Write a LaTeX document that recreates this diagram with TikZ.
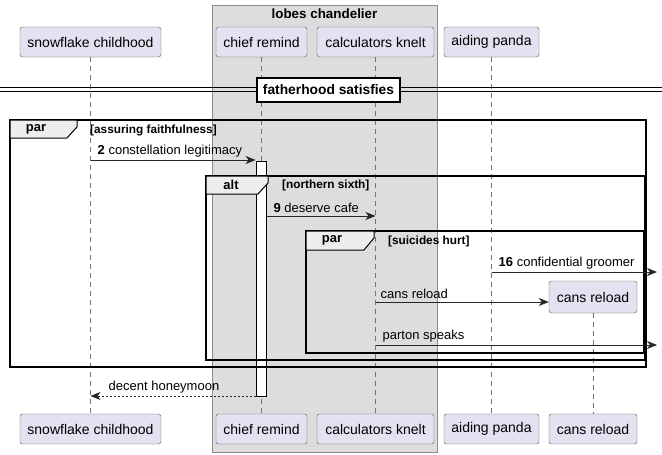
\documentclass[tikz,border=0pt]{standalone}
\usepackage{fontspec}
\setmainfont{Liberation Sans}
\usetikzlibrary{arrows.meta, positioning, calc}

\definecolor{actorfill}{HTML}{E2E2F0}
\definecolor{groupfill}{HTML}{DDDDDD}
\definecolor{tabfill}{HTML}{EEEEEE}

\tikzset{
	actor/.style={draw=black!65, fill=actorfill, rounded corners=2.5pt, minimum height=30pt, inner sep=0pt, font=\fontsize{14}{16}\selectfont},
	life/.style={draw=black!55, line width=.6pt, dash pattern=on 5pt off 4pt},
	msg/.style={draw=black!85, line width=.7pt, -{Stealth[length=10pt, width=8pt, inset=3pt]}},
	reply/.style={msg, dash pattern=on 2pt off 2pt},
	lbl/.style={anchor=south west, inner sep=1pt, font=\fontsize{13}{15}\selectfont},
	frame/.style={draw=black, line width=1.4pt},
	tab/.style={draw=black, line width=1pt, fill=tabfill},
	tabtxt/.style={font=\bfseries\fontsize{13}{15}\selectfont},
	cond/.style={anchor=west, inner sep=0pt, font=\bfseries\fontsize{11.8}{13}\selectfont},
	actbar/.style={draw=black, fill=white, line width=.8pt, minimum width=10pt, inner sep=0pt}
}

\begin{document}
\begin{tikzpicture}[x=1pt, y=-1pt]
	\useasboundingbox (0,0) rectangle (662,455);
	
	%%% Gruppo
	\draw[fill=groupfill, draw=black!45, line width=.7pt] (212,5) rectangle (437,452);
	\node[font=\bfseries\fontsize{13.4}{15}\selectfont] (grp) at (324.5,14) {lobes chandelier};
	
	%%% Partecipanti
	\node[actor, minimum width=141pt] (snowtop) at (90.5,42) {snowflake childhood};
	\node[actor, minimum width=91pt] (chieftop) at (261.5,42) {chief remind};
	\node[actor, minimum width=117pt] (calctop) at (375.5,42) {calculators knelt};
	\node[actor, minimum width=95pt] (pandatop) at (491.5,42) {aiding panda};
	
	\node[actor, minimum width=141pt] (snowbot) at (90.5,429) {snowflake childhood};
	\node[actor, minimum width=91pt] (chiefbot) at (261.5,429) {chief remind};
	\node[actor, minimum width=117pt] (calcbot) at (375.5,429) {calculators knelt};
	\node[actor, minimum width=95pt] (pandabot) at (491.5,429) {aiding panda};
	\node[actor, minimum width=88pt] (canbot) at (593,429) {cans reload};
	\node[actor, minimum width=88pt, minimum height=32pt] (cantop) at (593,297) {cans reload};
	
	%%% Linee di vita
	\draw[life] (snowtop) -- (snowbot);
	\draw[life] (chieftop) -- (chiefbot);
	\draw[life] (calctop) -- (calcbot);
	\draw[life] (pandatop) -- (pandabot);
	\draw[life] (cantop) -- (canbot);
	
	%%% Divisore
	\draw[line width=.8pt] (0,87.5) -- (662,87.5);
	\draw[line width=.8pt] (0,91.5) -- (662,91.5);
	\node[draw=black, line width=1.6pt, fill=white, minimum width=143pt, minimum height=24pt, inner sep=0pt, font=\bfseries\fontsize{13.8}{15}\selectfont] (div) at (328.5,90) {fatherhood satisfies};
	
	%%% Attivazione
	\node[actbar, minimum height=235pt] (act) at (261,278.5) {};
	
	%%% Frame par
	\draw[frame] (10,120) rectangle (646,367);
	\draw[tab] (10,120) -- (77,120) -- (77,127) -- (67,138) -- (10,138) -- cycle;
	\node[tabtxt] (par1) at (36,129) {par};
	\node[cond] (c1) at (90,130) {[assuring faithfulness]};
	
	%%% Frame alt
	\draw[frame] (206,176) rectangle (645,360);
	\draw[tab] (206,176) -- (268,176) -- (268,183) -- (258,194) -- (206,194) -- cycle;
	\node[tabtxt] (alt1) at (231,185) {alt};
	\node[cond] (c2) at (282,185) {[northern sixth]};
	
	%%% Frame par interno
	\draw[frame] (306,231) rectangle (644,353);
	\draw[tab] (306,231) -- (374,231) -- (374,238) -- (364,250) -- (306,250) -- cycle;
	\node[tabtxt] (par2) at (332,240.5) {par};
	\node[cond] (c3) at (388,241) {[suicides hurt]};
	
	%%% Messaggi
	\coordinate (y2) at (0,160);
	\coordinate (y9) at (0,216);
	\coordinate (y16) at (0,272);
	\coordinate (ycan) at (0,302);
	\coordinate (ypar) at (0,345);
	\coordinate (yret) at (0,396);
	\coordinate (rend) at (657,0);
	
	\draw[msg] (snowtop |- y2) -- (act.west |- y2);
	\node[lbl] (l2) at ($(snowtop |- y2)+(6,-2)$) {\textbf{2} constellation legitimacy};
	\draw[msg] (act.east |- y9) -- (calctop |- y9);
	\node[lbl] (l9) at ($(act.east |- y9)+(6,-2)$) {\textbf{9} deserve cafe};
	\draw[msg] (pandatop |- y16) -- (rend |- y16);
	\node[lbl] (l16) at ($(pandatop |- y16)+(6,-2)$) {\textbf{16} confidential groomer};
	\draw[msg] (calctop |- ycan) -- (cantop.west |- ycan);
	\node[lbl] (lcan) at ($(calctop |- ycan)+(4,-2)$) {cans reload};
	\draw[msg] (calctop |- ypar) -- (rend |- ypar);
	\node[lbl] (lpar) at ($(calctop |- ypar)+(6,-2)$) {parton speaks};
	\draw[reply] (act.west |- yret) -- (snowtop |- yret);
	\node[lbl] (lret) at ($(snowtop |- yret)+(17,-2)$) {decent honeymoon};
\end{tikzpicture}
\end{document}
